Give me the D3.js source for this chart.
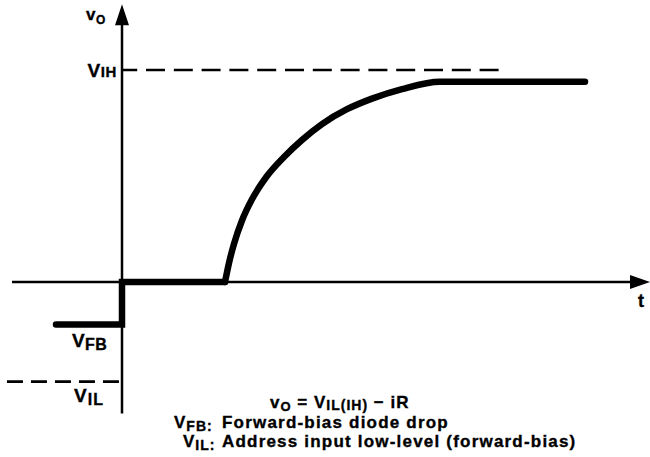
<!DOCTYPE html>
<html><head><meta charset="utf-8">
<script src="https://cdn.jsdelivr.net/npm/d3@7"></script>
<style>
html,body{margin:0;padding:0;background:#fff;}
svg{display:block;}
text{font-family:"Liberation Sans", Arial, Helvetica, sans-serif;font-weight:bold;fill:#000;stroke:#000;stroke-width:0.35px;}
</style></head><body>
<svg id="chart" width="650" height="457"></svg>
<script>
// Voltage levels, normalised so that VIH = 1 and the t axis sits at 0
const levelNames = ["VIH", "VFB", "VIL"];
const levelValues = [1, -0.2, -0.47];

// Output waveform: held at -VFB, clamped to 0, then charging up toward VIH
const stepT = [-0.66, 0, 0, 1.03];
const stepV = [-0.2, -0.2, 0, 0];
const riseT = [1.03, 1.07, 1.12, 1.20, 1.30, 1.45, 1.62, 1.80, 2.00, 2.25, 2.50, 2.80, 3.18, 4.63];
const riseV = [0, 0.09, 0.18, 0.29, 0.39, 0.50, 0.59, 0.67, 0.745, 0.815, 0.865, 0.91, 0.945, 0.945];

// Axis extents and dashed guide extents (data units)
const tExtent = [-1.1, 5.28];
const vExtent = [-0.62, 1.31];
const vihDashEnd = 3.78;
const vilDashStart = -1.15;

// Legend lines below the plot
const legendRows = [
  ["VFB:", "Forward-bias diode drop"],
  ["VIL:", "Address input low-level (forward-bias)"]
];

const svg = d3.select("#chart");
const x = d3.scaleLinear().domain([0, 5]).range([122, 622]);
const y = d3.scaleLinear().domain([0, 1]).range([282, 70]);
const level = name => levelValues[levelNames.indexOf(name)];

// Axes with arrowheads
const arrowLen = 20, arrowHalf = 7;
svg.append("line")
  .attr("x1", x(tExtent[0])).attr("x2", x(tExtent[1]) - arrowLen + 2)
  .attr("y1", y(0)).attr("y2", y(0))
  .attr("stroke", "#000").attr("stroke-width", 2.3);
svg.append("path")
  .attr("d", `M${x(tExtent[1])},${y(0)} L${x(tExtent[1]) - arrowLen},${y(0) - arrowHalf} L${x(tExtent[1]) - arrowLen},${y(0) + arrowHalf} Z`)
  .attr("fill", "#000");

svg.append("line")
  .attr("x1", x(0)).attr("x2", x(0))
  .attr("y1", y(vExtent[0])).attr("y2", y(vExtent[1]) + arrowLen - 2)
  .attr("stroke", "#000").attr("stroke-width", 2.5);
svg.append("path")
  .attr("d", `M${x(0)},${y(vExtent[1])} L${x(0) - arrowHalf},${y(vExtent[1]) + arrowLen + 1} L${x(0) + arrowHalf},${y(vExtent[1]) + arrowLen + 1} Z`)
  .attr("fill", "#000");

// Dashed level guides
svg.append("line")
  .attr("x1", x(0)).attr("x2", x(vihDashEnd))
  .attr("y1", y(level("VIH"))).attr("y2", y(level("VIH")))
  .attr("stroke", "#000").attr("stroke-width", 2.6)
  .attr("stroke-dasharray", "19,8.8").attr("stroke-dashoffset", 3.8);
svg.append("line")
  .attr("x1", x(vilDashStart)).attr("x2", x(0))
  .attr("y1", y(level("VIL"))).attr("y2", y(level("VIL")))
  .attr("stroke", "#000").attr("stroke-width", 2.6)
  .attr("stroke-dasharray", "16,8");

// Waveform
const stepLine = d3.line().x((d, i) => x(stepT[i])).y((d, i) => y(stepV[i]));
const riseLine = d3.line().x((d, i) => x(riseT[i])).y((d, i) => y(riseV[i])).curve(d3.curveMonotoneX);
svg.append("path").attr("d", stepLine(stepT))
  .attr("fill", "none").attr("stroke", "#000").attr("stroke-width", 6.5)
  .attr("stroke-linecap", "round").attr("stroke-linejoin", "miter");
svg.append("path").attr("d", riseLine(riseT))
  .attr("fill", "none").attr("stroke", "#000").attr("stroke-width", 6.5)
  .attr("stroke-linecap", "round").attr("stroke-linejoin", "round");

// Symbol with a subscript: main letter then smaller, lowered tail
function symbol(g, main, sub, mainSize, subSize, drop) {
  g.append("tspan").attr("font-size", mainSize).text(main);
  g.append("tspan").attr("font-size", subSize).attr("dy", drop).text(sub);
  return g;
}

// Axis titles
symbol(svg.append("text").attr("x", x(0) - 36).attr("y", y(vExtent[1]) + 16).attr("letter-spacing", 0.5), "v", "O", 17, 12, 4);
svg.append("text").attr("x", x(tExtent[1]) - 12).attr("y", y(0) + 25).attr("font-size", 18).text("t");

// Level labels
symbol(svg.append("text").attr("x", x(0) - 5).attr("y", y(level("VIH")) + 7).attr("text-anchor", "end").attr("letter-spacing", 0.6), "V", "IH", 19, 15, 0);
symbol(svg.append("text").attr("x", x(0) - 50).attr("y", y(level("VFB")) + 23).attr("letter-spacing", 0.4), "V", "FB", 19, 16, 3);
symbol(svg.append("text").attr("x", x(0) - 48).attr("y", y(level("VIL")) + 20).attr("letter-spacing", 1), "V", "IL", 19, 16, 3);

// Equation and legend
const eq = svg.append("text").attr("x", 270).attr("y", 408).attr("letter-spacing", 1);
eq.append("tspan").attr("font-size", 17).text("v");
eq.append("tspan").attr("font-size", 13).attr("dy", 3).text("O");
eq.append("tspan").attr("font-size", 17).attr("dy", -3).text(" = V");
eq.append("tspan").attr("font-size", 14).attr("dy", 2).text("IL(IH)");
eq.append("tspan").attr("font-size", 17).attr("dy", -2).text(" \u2212 iR");

const legendX = [[174, 222], [183, 222]];
const legendY = [428, 447];
legendRows.forEach((row, i) => {
  const t = svg.append("text").attr("x", legendX[i][0]).attr("y", legendY[i]).attr("letter-spacing", 1);
  t.append("tspan").attr("font-size", 17).text(row[0].slice(0, 1));
  t.append("tspan").attr("font-size", 14).attr("dy", 3).text(row[0].slice(1));
  svg.append("text").attr("x", legendX[i][1]).attr("y", legendY[i]).attr("font-size", 17)
    .attr("letter-spacing", 1.2).text(row[1]);
});
</script>
</body></html>
